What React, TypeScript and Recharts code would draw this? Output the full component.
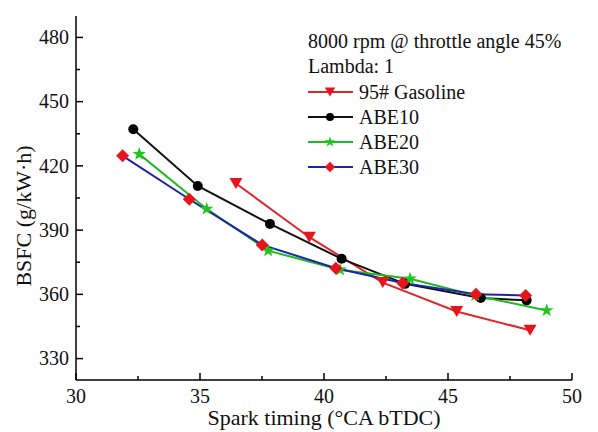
import React from "react";
import { LineChart, Line, XAxis, YAxis } from "recharts";

const FONT = '"Liberation Serif", "Times New Roman", serif';

// spark timing (°CA bTDC) and BSFC (g/kW·h)
const gasolineTiming = [36.45, 39.41, 42.37, 45.35, 48.31];
const gasolineBsfc = [411.8, 386.7, 365.5, 352.0, 343.2];

const abe10Timing = [32.31, 34.91, 37.82, 40.71, 43.27, 46.32, 48.17];
const abe10Bsfc = [437.1, 410.6, 392.9, 376.6, 364.9, 358.3, 357.2];

const abe20Timing = [32.55, 35.27, 37.75, 40.65, 43.47, 46.1, 48.98];
const abe20Bsfc = [425.5, 399.9, 380.4, 371.5, 367.3, 359.5, 352.5];

const abe30Timing = [31.88, 34.57, 37.51, 40.48, 43.17, 46.13, 48.13];
const abe30Bsfc = [424.7, 404.4, 383.1, 372.2, 365.3, 360.1, 359.5];

const xTicks = [30, 32.5, 35, 37.5, 40, 42.5, 45, 47.5, 50];
const yTicks = [330, 345, 360, 375, 390, 405, 420, 435, 450, 465, 480];

const noteLines = ["8000 rpm @ throttle angle 45%", "Lambda: 1"];

const zip = (xs: number[], ys: number[]) => xs.map((x, i) => ({ x, y: ys[i] }));

type Shape = "triangle" | "circle" | "star" | "diamond";

const series = [
  { name: "95# Gasoline", data: zip(gasolineTiming, gasolineBsfc), line: "#e0282c", fill: "#e8141c", shape: "triangle" as Shape },
  { name: "ABE10", data: zip(abe10Timing, abe10Bsfc), line: "#111111", fill: "#000000", shape: "circle" as Shape },
  { name: "ABE20", data: zip(abe20Timing, abe20Bsfc), line: "#1fba1f", fill: "#1fc41f", shape: "star" as Shape },
  { name: "ABE30", data: zip(abe30Timing, abe30Bsfc), line: "#1c24a8", fill: "#e8141c", shape: "diamond" as Shape },
];

function starPath(cx: number, cy: number, R: number, r: number) {
  let d = "";
  for (let i = 0; i < 10; i++) {
    const rad = i % 2 === 0 ? R : r;
    const a = -Math.PI / 2 + (i * Math.PI) / 5;
    d += (i === 0 ? "M" : "L") + (cx + rad * Math.cos(a)).toFixed(2) + "," + (cy + rad * Math.sin(a)).toFixed(2);
  }
  return d + "Z";
}

function Marker({ cx, cy, shape, fill, scale = 1 }: { cx: number; cy: number; shape: Shape; fill: string; scale?: number }) {
  if (cx == null || cy == null) return null;
  if (shape === "circle") return <circle cx={cx} cy={cy} r={5 * scale} fill={fill} />;
  if (shape === "triangle") {
    const w = 6.5 * scale;
    const h = 5.5 * scale;
    return <path d={`M${cx - w},${cy - h}L${cx + w},${cy - h}L${cx},${cy + h}Z`} fill={fill} />;
  }
  if (shape === "diamond") {
    const s = 6.5 * scale;
    return <path d={`M${cx},${cy - s}L${cx + s},${cy}L${cx},${cy + s}L${cx - s},${cy}Z`} fill={fill} />;
  }
  return <path d={starPath(cx, cy, 7 * scale, 2.8 * scale)} fill={fill} />;
}

const TICK_GAP = 7;

const BottomTick = ({ x, y, payload }: any) => {
  const major = payload.value % 5 === 0;
  const axisY = y - TICK_GAP;
  return (
    <g>
      <line x1={x} x2={x} y1={axisY} y2={axisY - (major ? 7 : 4)} stroke="#000" strokeWidth={1.5} />
      {major && (
        <text x={x} y={y} dy="0.78em" textAnchor="middle" fontFamily={FONT} fontSize={20} fill="#111">
          {payload.value}
        </text>
      )}
    </g>
  );
};

const LeftTick = ({ x, y, payload }: any) => {
  const major = (payload.value - 330) % 30 === 0;
  const axisX = x + TICK_GAP;
  return (
    <g>
      <line x1={axisX} x2={axisX + (major ? 7 : 4)} y1={y} y2={y} stroke="#000" strokeWidth={1.5} />
      {major && (
        <text x={x} y={y} dy="0.34em" textAnchor="end" fontFamily={FONT} fontSize={20} fill="#111">
          {payload.value}
        </text>
      )}
    </g>
  );
};

const TopTick = ({ x, y, payload }: any) => {
  const major = payload.value % 5 === 0;
  return <line x1={x} x2={x} y1={y} y2={y + (major ? 7 : 4)} stroke="#000" strokeWidth={1.5} />;
};

const RightTick = ({ x, y, payload }: any) => {
  const major = (payload.value - 330) % 30 === 0;
  return <line x1={x} x2={x - (major ? 7 : 4)} y1={y} y2={y} stroke="#000" strokeWidth={1.5} />;
};

const YTitle = ({ viewBox }: any) => {
  const cx = 24;
  const cy = 216;
  return (
    <text
      x={cx}
      y={cy}
      dy="0.34em"
      transform={`rotate(-90, ${cx}, ${cy})`}
      textAnchor="middle"
      fontFamily={FONT}
      fontSize={22}
      fill="#111"
    >
      BSFC (g/kW·h)
    </text>
  );
};

export default function App() {
  return (
    <div style={{ position: "absolute", left: 0, top: 0, width: 598, height: 432, background: "#fff" }}>
      <LineChart width={598} height={432} data={[]} margin={{ top: 16, right: 26, left: 0, bottom: 0 }}>
        <XAxis
          xAxisId="bottom"
          dataKey="x"
          type="number"
          domain={[30, 50]}
          allowDataOverflow
          ticks={xTicks}
          interval={0}
          height={52}
          tickSize={0}
          tickMargin={TICK_GAP}
          tick={<BottomTick />}
          axisLine={{ stroke: "#000", strokeWidth: 1.5 }}
          label={{
            value: "Spark timing (°CA bTDC)",
            position: "insideBottom",
            offset: 7,
            style: { fontFamily: FONT, fontSize: 22, fill: "#111" },
          }}
        />
        <XAxis
          xAxisId="top"
          orientation="top"
          dataKey="x"
          type="number"
          domain={[30, 50]}
          allowDataOverflow
          ticks={xTicks}
          interval={0}
          height={0}
          tickSize={0}
          tickMargin={0}
          tick={<TopTick />}
          axisLine={{ stroke: "#000", strokeWidth: 1.5 }}
        />
        <YAxis
          yAxisId="left"
          type="number"
          domain={[320, 490]}
          allowDataOverflow
          ticks={yTicks}
          interval={0}
          width={76}
          tickSize={0}
          tickMargin={TICK_GAP}
          tick={<LeftTick />}
          axisLine={{ stroke: "#000", strokeWidth: 1.5 }}
          label={<YTitle />}
        />
        <YAxis
          yAxisId="right"
          orientation="right"
          type="number"
          domain={[320, 490]}
          allowDataOverflow
          ticks={yTicks}
          interval={0}
          width={0}
          tickSize={0}
          tickMargin={0}
          tick={<RightTick />}
          axisLine={{ stroke: "#000", strokeWidth: 1.5 }}
        />
        {series.map((s) => (
          <Line
            key={s.name}
            xAxisId="bottom"
            yAxisId="left"
            data={s.data}
            dataKey="y"
            name={s.name}
            type="linear"
            stroke={s.line}
            strokeWidth={2}
            isAnimationActive={false}
            dot={(p: any) => <Marker key={`${s.name}-${p.index}`} cx={p.cx} cy={p.cy} shape={s.shape} fill={s.fill} />}
            activeDot={false}
          />
        ))}
      </LineChart>
      <svg width={598} height={432} style={{ position: "absolute", left: 0, top: 0, pointerEvents: "none" }}>
        {noteLines.map((t, i) => (
          <text key={t} x={308} y={48 + i * 25} fontFamily={FONT} fontSize={20} fill="#111">
            {t}
          </text>
        ))}
        {series.map((s, i) => {
          const cy = 92 + i * 25;
          return (
            <g key={s.name}>
              <line x1={308} x2={353} y1={cy} y2={cy} stroke={s.line} strokeWidth={2} />
              <Marker cx={330} cy={cy} shape={s.shape} fill={s.fill} scale={0.8} />
              <text x={359} y={cy + 6.5} fontFamily={FONT} fontSize={20} fill="#111">
                {s.name}
              </text>
            </g>
          );
        })}
      </svg>
    </div>
  );
}
